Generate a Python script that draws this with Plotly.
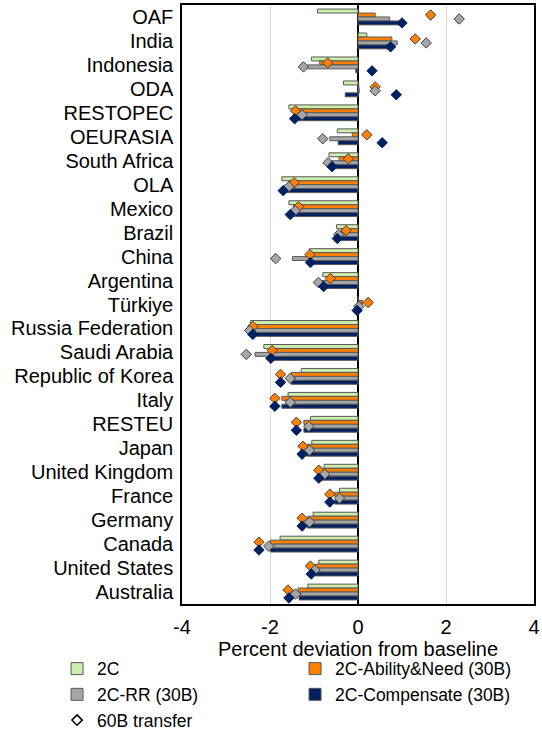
import plotly.graph_objects as go

categories = ["OAF", "India", "Indonesia", "ODA", "RESTOPEC", "OEURASIA", "South Africa",
              "OLA", "Mexico", "Brazil", "China", "Argentina", "Türkiye", "Russia Federation",
              "Saudi Arabia", "Republic of Korea", "Italy", "RESTEU", "Japan", "United Kingdom",
              "France", "Germany", "Canada", "United States", "Australia"]

v_2c = [-0.92, 0.20, -1.06, -0.33, -1.57, -0.47, -0.66, -1.73, -1.57, -0.49, -1.11, -0.80, 0.00,
        -2.44, -2.14, -1.29, -1.59, -1.08, -1.05, -0.77, -0.42, -1.02, -1.77, -0.89, -1.14]
v_an = [0.39, 0.77, -0.87, 0.02, -1.45, -0.13, -0.43, -1.58, -1.46, -0.38, -1.11, -0.66, 0.10,
        -2.40, -2.00, -1.52, -1.73, -1.23, -1.15, -0.83, -0.53, -1.14, -1.99, -0.97, -1.36]
v_rr = [0.72, 0.89, -1.15, 0.03, -1.36, -0.64, -0.68, -1.64, -1.49, -0.42, -1.49, -0.83, 0.02,
        -2.44, -2.34, -1.44, -1.63, -1.17, -1.17, -0.81, -0.49, -1.15, -1.89, -0.95, -1.30]
v_cp = [0.97, 0.73, -0.05, -0.29, -1.48, -0.45, -0.59, -1.70, -1.54, -0.47, -1.11, -0.80, -0.02,
        -2.40, -2.00, -1.52, -1.73, -1.23, -1.17, -0.87, -0.53, -1.15, -1.99, -0.97, -1.34]

d_an = [1.65, 1.30, -0.69, 0.39, -1.42, 0.20, -0.22, -1.45, -1.35, -0.27, -1.09, -0.63, 0.23,
        -2.39, -1.95, -1.76, -1.89, -1.40, -1.25, -0.89, -0.64, -1.27, -2.25, -1.08, -1.59]
d_rr = [2.30, 1.55, -1.24, 0.39, -1.27, -0.80, -0.68, -1.57, -1.43, -0.44, -1.87, -0.90, 0.02,
        -2.46, -2.54, -1.54, -1.54, -1.12, -1.10, -0.76, -0.42, -1.10, -2.03, -0.98, -1.42]
d_cp = [1.00, 0.74, 0.32, 0.87, -1.44, 0.55, -0.59, -1.70, -1.54, -0.47, -1.08, -0.78, -0.02,
        -2.39, -1.98, -1.76, -1.89, -1.40, -1.27, -0.89, -0.64, -1.27, -2.25, -1.06, -1.57]

series_names = ["2C", "2C-Ability&Need (30B)", "2C-RR (30B)", "2C-Compensate (30B)"]
tick_vals = [-4, -2, 0, 2, 4]

C_GREEN = "#CDEDAB"
C_ORANGE = "#FF8000"
C_GRAY = "#A6A6A6"
C_NAVY = "#002060"
FONT = "Liberation Sans, Arial, sans-serif"
GAP = 0.34

fig = go.Figure()
bar_specs = [(series_names[0], v_2c, C_GREEN, "g1"),
             (series_names[1], v_an, C_ORANGE, "g2"),
             (series_names[2], v_rr, C_GRAY, "g3"),
             (series_names[3], v_cp, C_NAVY, "g4")]
for name, vals, col, og in bar_specs:
    fig.add_trace(go.Bar(
        x=vals, y=categories, orientation="h", name=name,
        marker=dict(color=col, line=dict(color="#595959", width=1)),
        offsetgroup=og,
    ))

# invisible placeholder so the diamond groups line up with the four bar slots
fig.add_trace(go.Scatter(
    x=v_2c, y=categories, mode="markers", showlegend=False, hoverinfo="skip",
    orientation="h", marker=dict(size=1, opacity=0), offsetgroup="g1",
))
dia_specs = [(d_an, C_ORANGE, "#404040", "g2"),
             (d_rr, C_GRAY, "#404040", "g3"),
             (d_cp, C_NAVY, C_NAVY, "g4")]
for vals, col, lc, og in dia_specs:
    fig.add_trace(go.Scatter(
        x=vals, y=categories, mode="markers", showlegend=False, orientation="h",
        marker=dict(symbol="diamond", size=8, color=col, line=dict(color=lc, width=1)),
        offsetgroup=og,
    ))

# legend-only entry for the 60B transfer diamonds
fig.add_trace(go.Scatter(
    x=[None], y=[None], mode="markers", name="60B transfer",
    marker=dict(symbol="diamond", size=8, color="white", line=dict(color="black", width=1.5)),
))

fig.update_layout(
    width=542, height=731,
    margin=dict(l=182, r=8, t=5, b=127, autoexpand=False),
    barmode="group", bargap=GAP, bargroupgap=0,
    scattermode="group", scattergap=GAP,
    plot_bgcolor="white", paper_bgcolor="white",
    font=dict(family=FONT, size=20, color="black"),
    showlegend=True,
    legend=dict(orientation="h", x=-0.355, xanchor="left", y=-0.078, yanchor="top",
                entrywidth=193, entrywidthmode="pixels", traceorder="normal",
                font=dict(size=17.5), itemwidth=30, tracegroupgap=0,
                bgcolor="rgba(0,0,0,0)"),
)
fig.update_xaxes(
    range=[-4, 4], tickvals=tick_vals, ticktext=[str(t) for t in tick_vals],
    showgrid=True, gridcolor="#D9D9D9", gridwidth=1,
    zeroline=True, zerolinecolor="black", zerolinewidth=1.5,
    showline=True, linecolor="black", linewidth=1.5, mirror=True,
    ticks="", ticklabelstandoff=4, ticklabeloverflow="allow",
    title=dict(text="Percent deviation from baseline", standoff=0, font=dict(size=20)),
)
fig.update_yaxes(
    categoryorder="array", categoryarray=categories, autorange="reversed",
    tickmode="array", tickvals=categories, ticktext=categories,
    showline=True, linecolor="black", linewidth=1.5, mirror=True,
    ticks="", ticklabelstandoff=3, showgrid=False,
)

fig.write_html(
    "out.html",
    config={"displayModeBar": False},
    post_script="document.body.style.margin='0';document.body.style.overflow='hidden';",
)
